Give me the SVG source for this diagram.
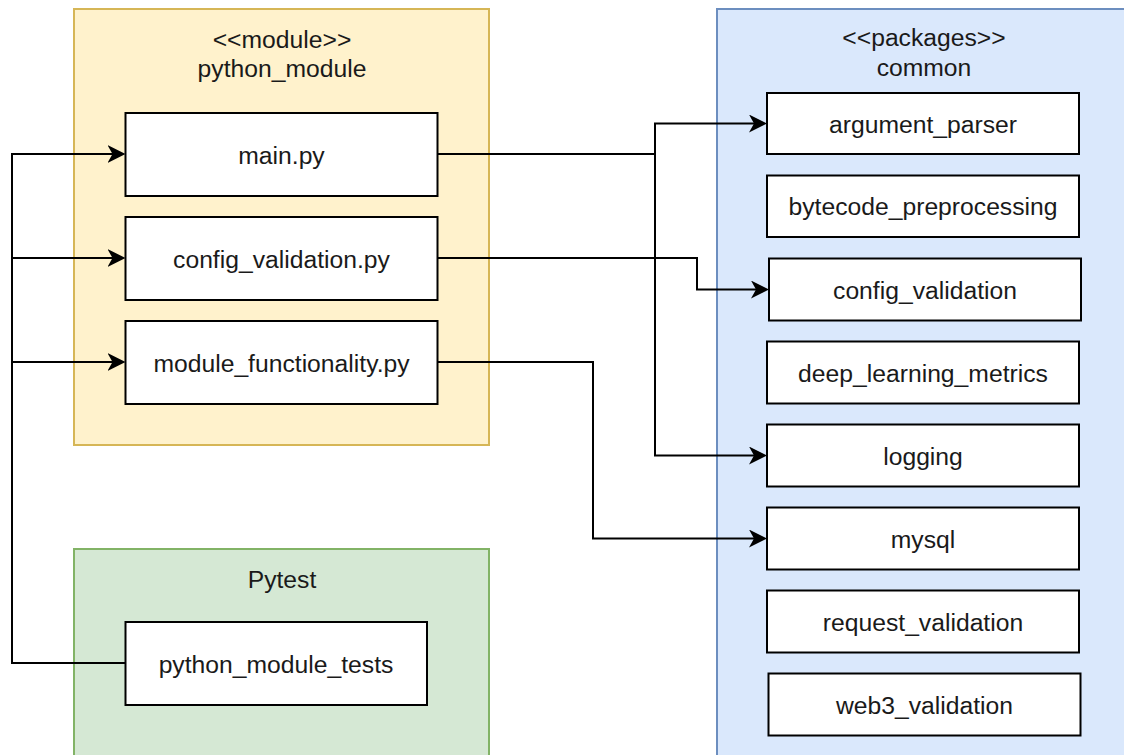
<svg xmlns="http://www.w3.org/2000/svg" width="1124" height="755" viewBox="0 0 1124 755">
  <defs>
    <style>
      text { font-family: "Liberation Sans", Arial, Helvetica, sans-serif; font-size: 24.7px; fill: #1a1a1a; text-anchor: middle; }
      .box { fill: #ffffff; stroke: #000000; stroke-width: 2; }
      .mod { fill: #fff2cc; stroke: #d6b656; stroke-width: 2; }
      .pkg { fill: #dae8fc; stroke: #6c8ebf; stroke-width: 2; }
      .tst { fill: #d5e8d4; stroke: #82b366; stroke-width: 2; }
      .edge { fill: none; stroke: #000000; stroke-width: 2; }
    </style>
    <marker id="arrow" markerUnits="userSpaceOnUse" markerWidth="18" markerHeight="18" viewBox="0 0 18 18" refX="14" refY="9" orient="auto">
      <path d="M0,0 L18,9 L0,18 L5,9 Z" fill="#000000"/>
    </marker>
  </defs>

  <!-- containers -->
  <g id="python_module">
    <rect class="mod" x="74" y="9" width="415" height="436"/>
    <text x="282" y="47.5">&lt;&lt;module&gt;&gt;</text>
    <text x="282" y="76.5">python_module</text>
  </g>
  <g id="pytest">
    <rect class="tst" x="74" y="549" width="415" height="220"/>
    <text x="282" y="588">Pytest</text>
  </g>
  <g id="common">
    <rect class="pkg" x="717" y="9" width="414" height="760"/>
    <text x="924" y="46">&lt;&lt;packages&gt;&gt;</text>
    <text x="924" y="76">common</text>
  </g>

  <!-- module nodes -->
  <g id="main_py">
    <rect class="box" x="125.5" y="113" width="312" height="83"/>
    <text x="281.5" y="163.5">main.py</text>
  </g>
  <g id="config_validation_py">
    <rect class="box" x="125.5" y="217" width="312" height="83"/>
    <text x="281.5" y="267.5">config_validation.py</text>
  </g>
  <g id="module_functionality_py">
    <rect class="box" x="125.5" y="321" width="312" height="83"/>
    <text x="281.5" y="371.5">module_functionality.py</text>
  </g>
  <g id="python_module_tests">
    <rect class="box" x="125.5" y="622" width="301.5" height="83"/>
    <text x="276" y="672.5">python_module_tests</text>
  </g>

  <!-- package nodes -->
  <g id="argument_parser">
    <rect class="box" x="767" y="93" width="312" height="61"/>
    <text x="923" y="132.5">argument_parser</text>
  </g>
  <g id="bytecode_preprocessing">
    <rect class="box" x="767" y="175.5" width="312" height="61.5"/>
    <text x="923" y="215">bytecode_preprocessing</text>
  </g>
  <g id="config_validation">
    <rect class="box" x="769" y="258.5" width="312" height="62"/>
    <text x="925" y="298.5">config_validation</text>
  </g>
  <g id="deep_learning_metrics">
    <rect class="box" x="767" y="341.5" width="312" height="62"/>
    <text x="923" y="381.5">deep_learning_metrics</text>
  </g>
  <g id="logging">
    <rect class="box" x="767" y="424.5" width="312" height="62"/>
    <text x="923" y="464.5">logging</text>
  </g>
  <g id="mysql">
    <rect class="box" x="767" y="507.5" width="312" height="62"/>
    <text x="923" y="547.5">mysql</text>
  </g>
  <g id="request_validation">
    <rect class="box" x="767" y="590.5" width="312" height="62"/>
    <text x="923" y="630.5">request_validation</text>
  </g>
  <g id="web3_validation">
    <rect class="box" x="768.5" y="673.5" width="312" height="62"/>
    <text x="924.5" y="713.5">web3_validation</text>
  </g>

  <!-- connectors -->
  <g id="connectors">
    <path class="edge" d="M437.5,154 L655,154 L655,123.5 L763,123.5" marker-end="url(#arrow)"/>
    <path class="edge" d="M437.5,154 L655,154 L655,455.5 L763,455.5" marker-end="url(#arrow)"/>
    <path class="edge" d="M437.5,258 L697,258 L697,289.5 L765,289.5" marker-end="url(#arrow)"/>
    <path class="edge" d="M437.5,362 L593,362 L593,538.5 L763,538.5" marker-end="url(#arrow)"/>
    <path class="edge" d="M125.5,663 L12,663 L12,154 L121.5,154" marker-end="url(#arrow)"/>
    <path class="edge" d="M12,258 L121.5,258" marker-end="url(#arrow)"/>
    <path class="edge" d="M12,362 L121.5,362" marker-end="url(#arrow)"/>
  </g>
</svg>
